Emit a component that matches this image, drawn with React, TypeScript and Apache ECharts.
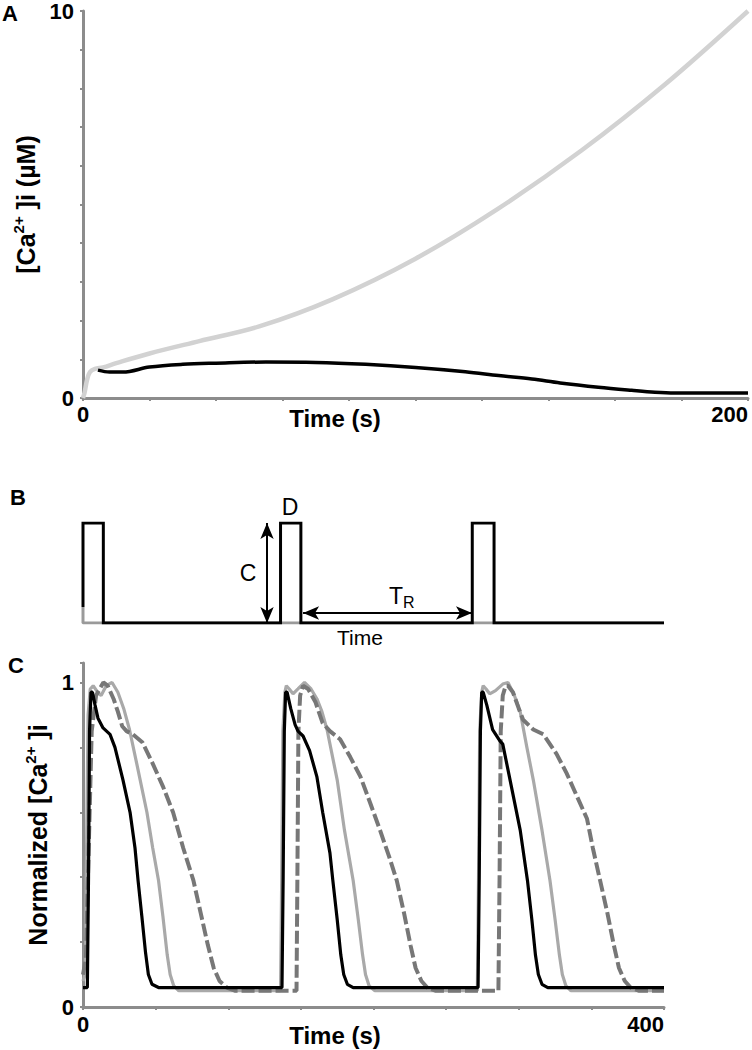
import React, { useEffect, useRef } from 'react';
import * as echarts from 'echarts';

const FONT = '"Liberation Sans", Arial, Helvetica, sans-serif';

// Panel A: [time (s), [Ca2+]i (µM)]
const caGrayA: number[][] = [
  [0, 0], [0.5, 0.15], [1.2, 0.46], [2.1, 0.67], [3.6, 0.75], [6, 0.79], [10, 0.9], [20, 1.15],
  [35, 1.47], [53, 1.85], [75, 2.55], [100, 3.6], [125, 4.9], [150, 6.4], [175, 8.1], [200, 10],
];
const caBlackA: number[][] = [
  [4.5, 0.72], [8, 0.67], [12, 0.67], [20, 0.8], [30, 0.87], [40, 0.9], [55, 0.93], [70, 0.92],
  [85, 0.87], [100, 0.79], [115, 0.68], [125, 0.58], [135, 0.49], [143.5, 0.39], [155, 0.28],
  [165, 0.2], [172, 0.15], [178, 0.13], [200, 0.13],
];
const xTicksA = [0, 200];
const yTicksA = [0, 10];

// Panel B: stimulus protocol [time, level]
const pulseB: number[][] = [
  [0, 0.16], [0, 1], [14, 1], [14, 0], [136, 0], [136, 1], [150, 1], [150, 0],
  [268, 0], [268, 1], [283, 1], [283, 0], [400, 0],
];
const baseB: number[][] = [[0, 0.16], [0, 0], [400, 0]];
const arrowC = [[126.7, 0], [126.7, 1]];
const arrowTR = [[151.5, 0.1], [267.8, 0.1]];

// Panel C: normalized [Ca2+]i
const blackC: number[][] = [
  [0, 0.06], [3, 0.06], [3.8, 0.4], [4.5, 0.85], [5.5, 0.97], [6.5, 0.97], [8.3, 0.93], [10.3, 0.89],
  [13.8, 0.86], [18.6, 0.84], [22, 0.8], [27.5, 0.7], [32.4, 0.6], [35.8, 0.49], [37.9, 0.39],
  [40.5, 0.28], [43, 0.17], [45, 0.1], [47.5, 0.07], [52, 0.06],
  [137, 0.06], [137.8, 0.4], [138.6, 0.85], [139.5, 0.97], [140.5, 0.97], [143, 0.92], [146, 0.87],
  [148, 0.85], [151.5, 0.835], [156, 0.79], [161, 0.71], [165, 0.6], [170, 0.475], [172, 0.39],
  [175, 0.27], [177.5, 0.16], [179.5, 0.1], [182, 0.07], [186, 0.06],
  [272, 0.06], [272.8, 0.4], [273.6, 0.85], [274.5, 0.97], [275.5, 0.97], [278, 0.93], [282, 0.855],
  [287, 0.82], [289, 0.81], [294, 0.7], [301, 0.545], [306, 0.39], [309, 0.27], [311.5, 0.16],
  [313.5, 0.1], [316, 0.07], [320, 0.06], [400, 0.06],
];
const lightC: number[][] = [
  [0, 0.08], [1.5, 0.1], [2.5, 0.5], [3.5, 0.9], [5, 0.98], [7, 0.99], [10, 0.97], [12.5, 0.96],
  [16, 0.99], [20, 1.0], [24, 0.97], [28, 0.92], [32, 0.855], [37, 0.75], [44, 0.6], [48, 0.49],
  [52, 0.39], [55, 0.28], [58, 0.16], [60, 0.1], [62.5, 0.065], [66, 0.05],
  [136, 0.05], [136.8, 0.4], [137.6, 0.85], [139, 0.97], [140, 0.99], [142, 0.98], [144.6, 0.965],
  [148, 0.98], [152.5, 1.0], [157, 0.98], [161, 0.95], [164.5, 0.91], [168, 0.855], [175, 0.7],
  [180, 0.545], [186, 0.39], [189.5, 0.27], [192.5, 0.16], [194.5, 0.1], [197, 0.065], [201, 0.05],
  [271.5, 0.05], [272.3, 0.4], [273.1, 0.85], [274.5, 0.97], [275.5, 0.99], [277.5, 0.98], [280, 0.965],
  [284, 0.975], [289, 0.995], [292.6, 1.0], [297, 0.96], [301, 0.91], [305.6, 0.8], [310, 0.7],
  [316, 0.545], [321.5, 0.39], [325, 0.27], [328, 0.16], [330, 0.1], [332.5, 0.065], [336, 0.05],
  [400, 0.05],
];
const dashedC: number[][] = [
  [0, 0.1], [2, 0.15], [4, 0.5], [6, 0.85], [9, 0.96], [14, 1.0], [17, 0.99], [21, 0.95], [24, 0.91],
  [27, 0.865], [30, 0.85], [34.4, 0.84], [41, 0.815], [48, 0.75], [55, 0.68], [62, 0.6], [69, 0.49],
  [76, 0.39], [81, 0.29], [86, 0.19], [90, 0.12], [94, 0.08], [99, 0.06], [105, 0.05],
  [147, 0.05], [147.6, 0.4], [148.3, 0.85], [149.5, 0.96], [151.5, 0.99], [155, 0.98], [160, 0.94],
  [165, 0.875], [170, 0.85], [177, 0.825], [184, 0.77], [191, 0.71], [197.6, 0.63], [204.5, 0.545],
  [211, 0.46], [216, 0.39], [221, 0.29], [225.5, 0.19], [229, 0.12], [233, 0.08], [237, 0.06], [243, 0.05],
  [286, 0.05], [286.8, 0.4], [287.6, 0.85], [289, 0.96], [291, 0.99], [292.6, 0.99], [296, 0.97],
  [300, 0.92], [303, 0.885], [310, 0.855], [317, 0.84], [326, 0.78], [333, 0.72], [340, 0.65],
  [347, 0.58], [351, 0.49], [356, 0.39], [361, 0.29], [365.5, 0.19], [369, 0.12], [373, 0.08],
  [377, 0.06], [383, 0.05], [400, 0.05],
];
const xTicksC = [0, 400];
const yTicksC = [0, 1];

const AXIS_GRAY = '#8c8c8c';

function axisCommon(labels: number[], margin: number, isX: boolean) {
  return {
    axisLine: { show: true, onZero: false, lineStyle: { color: AXIS_GRAY, width: 3 } },
    axisTick: { show: true, length: 3, lineStyle: { color: AXIS_GRAY, width: 2 } },
    splitLine: { show: false },
    axisLabel: {
      show: true,
      margin,
      color: '#000',
      fontFamily: FONT,
      fontWeight: 'bold',
      fontSize: 22,
      showMaxLabel: true,
      showMinLabel: true,
      ...(isX ? { alignMaxLabel: 'right' } : {}),
      formatter: (v: number) => (labels.some((l) => Math.abs(l - v) < 1e-9) ? String(v) : ''),
    },
  };
}

const nameRich = {
  n: { fontSize: 25, fontWeight: 'bold', fontFamily: FONT, color: '#000', lineHeight: 30 },
  s: { fontSize: 15, fontWeight: 'bold', fontFamily: FONT, color: '#000', lineHeight: 11, verticalAlign: 'top' },
};

export default function App() {
  const ref = useRef<HTMLDivElement>(null);

  useEffect(() => {
    document.body.style.margin = '0';
    const chart = echarts.init(ref.current!, undefined, { renderer: 'svg' });

    const option: any = {
      animation: false,
      backgroundColor: '#fff',
      grid: [
        { left: 83, top: 10, width: 665, height: 388 },
        { left: 83, top: 523, width: 581, height: 100 },
        { left: 83, top: 663, width: 581, height: 344 },
      ],
      xAxis: [
        { gridIndex: 0, type: 'value', min: 0, max: 200, interval: 20, ...axisCommon(xTicksA, 5, true) },
        { gridIndex: 1, type: 'value', min: 0, max: 400, show: false },
        { gridIndex: 2, type: 'value', min: 0, max: 400, interval: 50, ...axisCommon(xTicksC, 6, true) },
      ],
      yAxis: [
        {
          gridIndex: 0, type: 'value', min: 0, max: 10, interval: 1, ...axisCommon(yTicksA, 9, false),
          name: '{n|[Ca}{s|2+}{n| ]i (µM)}', nameLocation: 'middle', nameRotate: 90, nameGap: 22,
          nameTextStyle: { rich: nameRich },
        },
        { gridIndex: 1, type: 'value', min: 0, max: 1, show: false },
        {
          gridIndex: 2, type: 'value', min: 0, max: 1.06, interval: 0.2, ...axisCommon(yTicksC, 9, false),
          name: '{n|Normalized [Ca}{s|2+}{n| ]i}', nameLocation: 'middle', nameRotate: 90, nameGap: 22,
          nameTextStyle: { rich: nameRich },
        },
      ],
      series: [
        {
          type: 'line', xAxisIndex: 0, yAxisIndex: 0, data: caGrayA, showSymbol: false, smooth: 0.35,
          lineStyle: { color: '#d2d2d2', width: 4.5 }, z: 2,
        },
        {
          type: 'line', xAxisIndex: 0, yAxisIndex: 0, data: caBlackA, showSymbol: false, smooth: 0.35,
          lineStyle: { color: '#000', width: 3.5 }, z: 3,
        },
        {
          type: 'line', xAxisIndex: 1, yAxisIndex: 1, data: baseB, showSymbol: false,
          lineStyle: { color: '#9a9a9a', width: 3 }, z: 2,
        },
        {
          type: 'line', xAxisIndex: 1, yAxisIndex: 1, data: pulseB, showSymbol: false,
          lineStyle: { color: '#000', width: 3, join: 'miter' }, z: 3,
          markLine: {
            silent: true,
            symbol: ['arrow', 'arrow'],
            symbolSize: [10, 16],
            label: { show: false },
            lineStyle: { color: '#000', width: 2, type: 'solid' },
            emphasis: { disabled: true },
            data: [
              [{ coord: arrowC[0] }, { coord: arrowC[1] }],
              [{ coord: arrowTR[0] }, { coord: arrowTR[1] }],
            ],
          },
        },
        {
          type: 'line', xAxisIndex: 2, yAxisIndex: 2, data: lightC, showSymbol: false,
          lineStyle: { color: '#a9a9a9', width: 3.2 }, z: 2,
        },
        {
          type: 'line', xAxisIndex: 2, yAxisIndex: 2, data: dashedC, showSymbol: false,
          lineStyle: { color: '#777777', width: 4, type: [13, 4] }, z: 3,
        },
        {
          type: 'line', xAxisIndex: 2, yAxisIndex: 2, data: blackC, showSymbol: false,
          lineStyle: { color: '#000', width: 3.2 }, z: 4,
        },
      ],
      graphic: [
        { type: 'text', x: 10, y: 13, style: { text: 'A', font: `bold 22px ${FONT}`, fill: '#000', align: 'center', verticalAlign: 'middle' } },
        { type: 'text', x: 18, y: 497, style: { text: 'B', font: `bold 22px ${FONT}`, fill: '#000', align: 'center', verticalAlign: 'middle' } },
        { type: 'text', x: 16, y: 665, style: { text: 'C', font: `bold 22px ${FONT}`, fill: '#000', align: 'center', verticalAlign: 'middle' } },
        { type: 'text', x: 335, y: 418, style: { text: 'Time (s)', font: `bold 24px ${FONT}`, fill: '#000', align: 'center', verticalAlign: 'middle' } },
        { type: 'text', x: 335, y: 1035, style: { text: 'Time (s)', font: `bold 24px ${FONT}`, fill: '#000', align: 'center', verticalAlign: 'middle' } },
        { type: 'text', x: 248, y: 573, style: { text: 'C', font: `23px ${FONT}`, fill: '#000', align: 'center', verticalAlign: 'middle' } },
        { type: 'text', x: 290, y: 507, style: { text: 'D', font: `23px ${FONT}`, fill: '#000', align: 'center', verticalAlign: 'middle' } },
        { type: 'text', x: 360, y: 637, style: { text: 'Time', font: `21px ${FONT}`, fill: '#000', align: 'center', verticalAlign: 'middle' } },
        {
          type: 'text', x: 389, y: 596,
          style: {
            text: '{t|T}{r|R}', align: 'left', verticalAlign: 'middle',
            rich: {
              t: { fontSize: 23, fontFamily: FONT, fill: '#000', lineHeight: 28 },
              r: { fontSize: 16, fontFamily: FONT, fill: '#000', lineHeight: 14, verticalAlign: 'bottom' },
            },
          },
        },
      ],
    };

    chart.setOption(option);
    return () => chart.dispose();
  }, []);

  return <div ref={ref} style={{ width: 752, height: 1050 }} />;
}
